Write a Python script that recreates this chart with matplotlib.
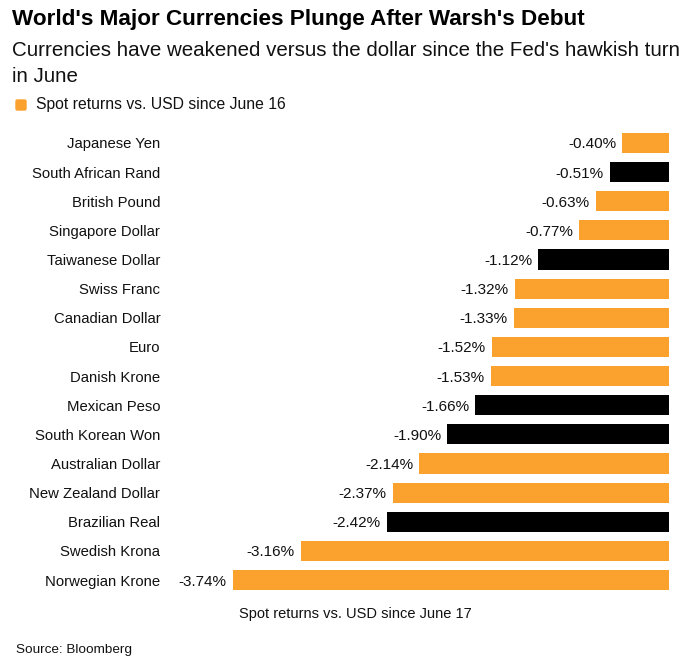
import matplotlib
matplotlib.use("Agg")
import matplotlib.pyplot as plt
from matplotlib.patches import FancyBboxPatch
import numpy as np

plt.rcParams['font.family'] = ['Liberation Sans', 'DejaVu Sans']

# data, top to bottom
currencies = ["Japanese Yen", "South African Rand", "British Pound", "Singapore Dollar",
              "Taiwanese Dollar", "Swiss Franc", "Canadian Dollar", "Euro", "Danish Krone",
              "Mexican Peso", "South Korean Won", "Australian Dollar", "New Zealand Dollar",
              "Brazilian Real", "Swedish Krona", "Norwegian Krone"]
returns = [-0.40, -0.51, -0.63, -0.77, -1.12, -1.32, -1.33, -1.52, -1.53,
           -1.66, -1.90, -2.14, -2.37, -2.42, -3.16, -3.74]
highlight = [0, 1, 0, 0, 1, 0, 0, 0, 0, 1, 1, 0, 0, 1, 0, 0]

orange = "#FBA12E"
dark = "#000000"

W, H = 692, 669
fig = plt.figure(figsize=(W / 100, H / 100), dpi=100)
ax = fig.add_axes([170 / W, 74.4 / H, (669 - 170) / W, (540.6 - 74.4) / H])

y = np.arange(len(currencies))
colors = [dark if h else orange for h in highlight]
ax.barh(y, returns, height=0.69, color=colors)
ax.set_ylim(len(currencies) - 0.5, -0.5)
ax.set_xlim(-(669 - 170) / 116.6, 0)

for yi, v in zip(y, returns):
    ax.annotate(f"{v:.2f}%", (v, yi), xytext=(-4.5, 0), textcoords="offset points",
                ha="right", va="center_baseline", fontsize=11, color="#111111")

ax.set_yticks(y)
ax.set_yticklabels(currencies, fontsize=10.75, color="#111111", va="center_baseline")
ax.tick_params(axis="y", length=0, pad=7)
ax.set_xticks([])
for s in ax.spines.values():
    s.set_visible(False)

fig.text(12 / W, 1 - 20 / H, "World's Major Currencies Plunge After Warsh's Debut",
         fontsize=16.2, fontweight="bold", va="center", ha="left")
fig.text(12 / W, 1 - 50 / H, "Currencies have weakened versus the dollar since the Fed's hawkish turn",
         fontsize=14.8, va="center", ha="left", color="#111111")
fig.text(12 / W, 1 - 76 / H, "in June", fontsize=14.8, va="center", ha="left", color="#111111")
fig.patches.append(FancyBboxPatch((16 / W, 1 - 110 / H), 10 / W, 10 / H,
                                  boxstyle="round,pad=0,rounding_size=0.002",
                                  color=orange, transform=fig.transFigure, figure=fig))
fig.text(36 / W, 1 - 104 / H, "Spot returns vs. USD since June 16", fontsize=11.3,
         va="center", ha="left", color="#111111")
fig.text(355 / W, 1 - 614 / H, "Spot returns vs. USD since June 17", fontsize=10.5,
         va="center", ha="center", color="#111111")
fig.text(16 / W, 1 - 650 / H, "Source: Bloomberg", fontsize=9.7, va="center", ha="left",
         color="#111111")

fig.savefig("out.png", dpi=100)
